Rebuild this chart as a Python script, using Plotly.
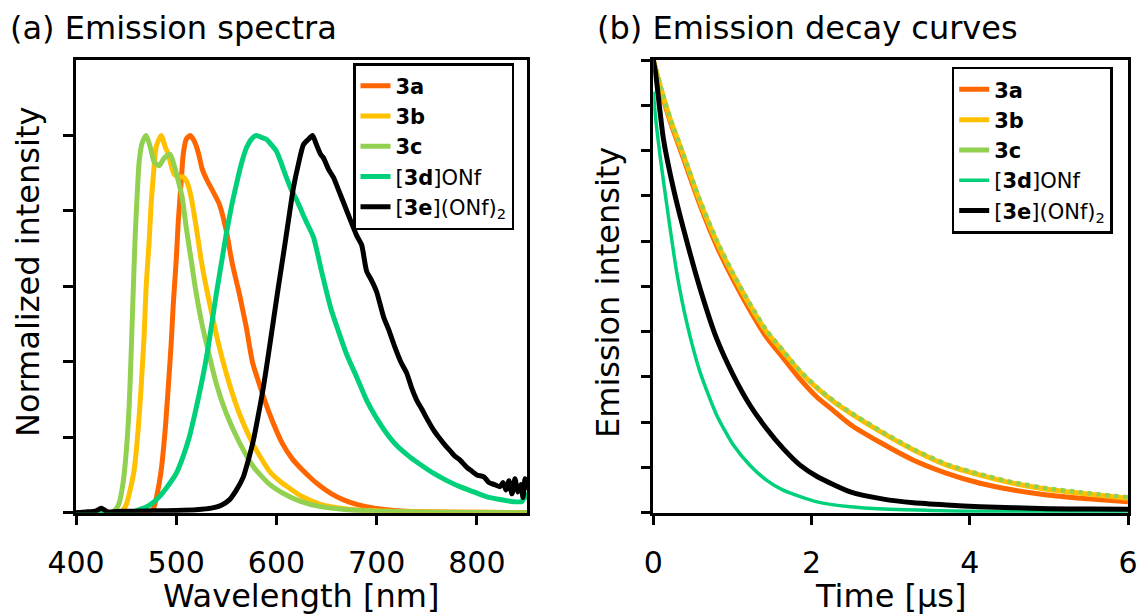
import plotly.graph_objects as go

# ---------------- (a) Emission spectra ----------------
wl_3a = [400, 470, 477, 481, 485, 489, 492, 495, 497, 500, 502, 505, 507, 510, 514, 518, 522, 526, 531,
         537, 543, 550, 556, 563, 570, 576, 583, 593, 606, 616, 626, 635, 644, 655, 667, 680, 695, 710,
         730, 760, 800, 850]
int_3a = [0, 0, 0.01, 0.05, 0.113, 0.22, 0.33, 0.45, 0.55, 0.67, 0.77, 0.88, 0.95, 0.99, 1.0, 0.985,
          0.955, 0.91, 0.88, 0.85, 0.818, 0.747, 0.659, 0.58, 0.49, 0.40, 0.34, 0.263, 0.183, 0.142,
          0.113, 0.09, 0.07, 0.05, 0.034, 0.022, 0.013, 0.008, 0.004, 0.002, 0.001, 0]

wl_3b = [400, 440, 446, 450, 454, 458, 462, 465, 468, 470, 473, 475, 478, 480, 485, 489, 492, 495, 498,
         503, 507, 511, 515, 520, 525, 530, 537, 543, 553, 563, 577, 593, 605, 613, 624, 644, 670, 700,
         750, 850]
int_3b = [0, 0, 0.005, 0.02, 0.06, 0.113, 0.22, 0.333, 0.47, 0.6, 0.72, 0.82, 0.92, 0.97, 1.0, 0.97,
          0.95, 0.92, 0.897, 0.89, 0.89, 0.875, 0.835, 0.756, 0.668, 0.597, 0.509, 0.439, 0.342, 0.263,
          0.18, 0.11, 0.08, 0.065, 0.045, 0.022, 0.01, 0.005, 0.002, 0]

wl_3c = [400, 435, 440, 443, 447, 450, 453, 455, 457, 459, 461, 463, 466, 470, 474, 478, 483, 488, 494,
         498, 502, 506, 510, 515, 519, 525, 531, 540, 550, 562, 577, 592, 607, 624, 644, 670, 700, 750,
         850]
int_3c = [0, 0, 0.01, 0.025, 0.08, 0.157, 0.28, 0.42, 0.58, 0.73, 0.84, 0.93, 0.98, 1.0, 0.97, 0.93,
          0.92, 0.94, 0.95, 0.92, 0.88, 0.835, 0.756, 0.668, 0.597, 0.509, 0.439, 0.342, 0.263, 0.192,
          0.122, 0.078, 0.051, 0.03, 0.016, 0.008, 0.004, 0.001, 0]

wl_3d = [400, 455, 460, 470, 476, 483, 490, 500, 507, 513, 518, 523, 528, 532, 536, 540, 545, 550, 555,
         560, 565, 570, 575, 580, 585, 590, 595, 600, 605, 610, 615, 620, 625, 630, 637, 645, 654, 662,
         670, 680, 690, 700, 710, 720, 733, 745, 757, 770, 783, 797, 810, 823, 837, 845, 848, 850]
int_3d = [0, 0, 0.005, 0.015, 0.025, 0.042, 0.065, 0.104, 0.15, 0.2, 0.255, 0.315, 0.38, 0.44, 0.51,
          0.58, 0.66, 0.74, 0.81, 0.87, 0.925, 0.967, 0.99, 1.0, 0.995, 0.99, 0.975, 0.958, 0.925, 0.888,
          0.855, 0.83, 0.8, 0.77, 0.73, 0.64, 0.544, 0.48, 0.42, 0.36, 0.298, 0.25, 0.21, 0.178, 0.148,
          0.125, 0.104, 0.085, 0.069, 0.055, 0.042, 0.035, 0.029, 0.03, 0.05, 0.035]

wl_3e = [400, 410, 420, 425, 428, 432, 440, 460, 480, 500, 520, 535, 545, 553, 560, 567, 572, 577, 582,
         587, 592, 597, 602, 607, 612, 617, 622, 627, 632, 636, 640, 644, 647, 652, 657, 662, 668, 674,
         680, 685, 690, 695, 700, 707, 712, 718, 724, 730, 735, 740, 745, 750, 757, 762, 768, 773, 778,
         783, 790, 795, 800, 807, 812, 817, 823, 826, 829, 832, 835, 838, 841, 844, 846, 848, 850]
int_3e = [0.0, 0.002, 0.005, 0.012, 0.008, 0.002, 0.003, 0.004, 0.005, 0.006, 0.008, 0.012, 0.02, 0.034,
          0.06, 0.095, 0.14, 0.192, 0.26, 0.333, 0.42, 0.51, 0.6, 0.686, 0.775, 0.862, 0.925, 0.976, 0.99,
          1.0, 0.975, 0.95, 0.94, 0.91, 0.888, 0.855, 0.815, 0.774, 0.735, 0.71, 0.64, 0.615, 0.585, 0.518,
          0.485, 0.44, 0.40, 0.37, 0.33, 0.298, 0.275, 0.25, 0.218, 0.2, 0.18, 0.165, 0.15, 0.14, 0.12,
          0.11, 0.1, 0.095, 0.08, 0.075, 0.069, 0.08, 0.06, 0.085, 0.05, 0.09, 0.055, 0.075, 0.04, 0.09,
          0.06]

# ---------------- (b) Emission decay curves ----------------
t_abc = [0, 0.1, 0.21, 0.38, 0.59, 0.80, 1.01, 1.22, 1.43, 1.64, 1.855, 2.07, 2.28, 2.49, 2.87, 3.29,
         3.71, 4.13, 4.55, 4.975, 5.40, 6.0]
dec_3a = [1.0, 0.93, 0.866, 0.783, 0.68, 0.59, 0.515, 0.448, 0.388, 0.342, 0.295, 0.255, 0.225, 0.195,
          0.155, 0.116, 0.087, 0.065, 0.05, 0.039, 0.032, 0.024]
dec_3b = [1.0, 0.935, 0.871, 0.79, 0.687, 0.599, 0.525, 0.459, 0.40, 0.356, 0.311, 0.275, 0.245, 0.22,
          0.179, 0.1385, 0.105, 0.083, 0.065, 0.052, 0.043, 0.032]
dec_3c = [1.0, 0.937, 0.873, 0.792, 0.69, 0.602, 0.528, 0.462, 0.403, 0.358, 0.313, 0.277, 0.247, 0.222,
          0.181, 0.14, 0.107, 0.085, 0.067, 0.054, 0.045, 0.034]

t_3d = [0, 0.03, 0.084, 0.17, 0.295, 0.42, 0.59, 0.80, 1.01, 1.22, 1.43, 1.64, 2.07, 2.49, 2.91, 3.5,
        4.0, 5.0, 6.0]
dec_3d = [0.93, 0.87, 0.79, 0.68, 0.532, 0.422, 0.311, 0.216, 0.15, 0.105, 0.072, 0.05, 0.024, 0.013,
          0.008, 0.005, 0.003, 0.002, 0.001]

t_3e = [0, 0.03, 0.127, 0.253, 0.38, 0.59, 0.80, 1.01, 1.22, 1.43, 1.64, 1.855, 2.07, 2.49, 2.91, 3.29,
        3.71, 4.13, 4.55, 5.0, 5.5, 6.0]
dec_3e = [1.0, 0.97, 0.827, 0.717, 0.628, 0.496, 0.385, 0.304, 0.238, 0.186, 0.142, 0.105, 0.08, 0.046,
          0.03, 0.022, 0.017, 0.013, 0.011, 0.009, 0.008, 0.0075]

names = ["<b>3a</b>", "<b>3b</b>", "<b>3c</b>", "[<b>3d</b>]ONf", "[<b>3e</b>](ONf)<sub>2</sub>"]
colors = ["#FF6600", "#FFC000", "#92D050", "#00D07A", "#000000"]

FONT = "DejaVu Sans"
W, H = 1139, 614

fig = go.Figure()

spec = [(wl_3a, int_3a), (wl_3b, int_3b), (wl_3c, int_3c), (wl_3d, int_3d), (wl_3e, int_3e)]
for i, (x, y) in enumerate(spec):
    fig.add_trace(go.Scatter(x=x, y=y, mode="lines", name=names[i],
                             line=dict(color=colors[i], width=5, shape="spline", smoothing=0.6),
                             xaxis="x", yaxis="y", legend="legend"))

# decay
fig.add_trace(go.Scatter(x=t_abc, y=dec_3a, mode="lines", name=names[0],
                         line=dict(color=colors[0], width=5, shape="spline", smoothing=0.6),
                         xaxis="x2", yaxis="y2", legend="legend2", legendrank=1))
fig.add_trace(go.Scatter(x=t_abc, y=dec_3b, mode="lines", name=names[1],
                         line=dict(color=colors[1], width=5, shape="spline", smoothing=0.6),
                         xaxis="x2", yaxis="y2", legend="legend2", legendrank=2))
fig.add_trace(go.Scatter(x=t_abc, y=dec_3c, mode="lines", name=names[2], showlegend=False,
                         line=dict(color=colors[2], width=4.5, dash="dot", shape="spline", smoothing=0.6),
                         xaxis="x2", yaxis="y2", legend="legend2"))
fig.add_trace(go.Scatter(x=[None], y=[None], mode="lines", name=names[2],
                         line=dict(color=colors[2], width=5),
                         xaxis="x2", yaxis="y2", legend="legend2", legendrank=3))
fig.add_trace(go.Scatter(x=t_3d, y=dec_3d, mode="lines", name=names[3],
                         line=dict(color=colors[3], width=3.5, shape="spline", smoothing=0.6),
                         xaxis="x2", yaxis="y2", legend="legend2", legendrank=4))
fig.add_trace(go.Scatter(x=t_3e, y=dec_3e, mode="lines", name=names[4],
                         line=dict(color=colors[4], width=5, shape="spline", smoothing=0.6),
                         xaxis="x2", yaxis="y2", legend="legend2", legendrank=5))

axis_common = dict(showline=True, linecolor="black", linewidth=2.5, mirror=True, showgrid=False,
                   zeroline=False, ticks="outside", ticklen=10, tickwidth=2.5, tickcolor="black",
                   automargin=False,
                   tickfont=dict(family=FONT, size=30, color="black"))

ydom = [1 - 512.7 / H, 1 - 60 / H]
fig.update_layout(
    width=W, height=H, margin=dict(l=0, r=0, t=0, b=0, pad=0, autoexpand=False),
    paper_bgcolor="white", plot_bgcolor="white",
    showlegend=True,
    xaxis=dict(domain=[76 / W, 527 / W], range=[400, 850], tickvals=[400, 500, 600, 700, 800],
               ticklabelstandoff=12, **axis_common),
    yaxis=dict(domain=ydom, range=[0, 1.2], tickvals=[0, 0.2, 0.4, 0.6, 0.8, 1.0],
               showticklabels=False, **axis_common),
    xaxis2=dict(domain=[653.3 / W, 1128 / W], range=[0, 6], tickvals=[0, 2, 4, 6],
                ticklabelstandoff=12, anchor="y2", **axis_common),
    yaxis2=dict(domain=ydom, range=[0, 1.0], dtick=0.1, showticklabels=False, anchor="x2",
                **axis_common),
    legend=dict(x=353 / W, y=1 - 63 / H, xanchor="left", yanchor="top", bgcolor="white",
                bordercolor="black", borderwidth=2.5, font=dict(family=FONT, size=21, color="black"),
                tracegroupgap=0, itemwidth=30),
    legend2=dict(x=951.7 / W, y=1 - 66.7 / H, xanchor="left", yanchor="top", bgcolor="white",
                 bordercolor="black", borderwidth=2.5, font=dict(family=FONT, size=21, color="black"),
                 tracegroupgap=0, itemwidth=30),
    font=dict(family=FONT, color="black"),
)

ann_font = dict(family=FONT, size=32, color="black")
annotations = [
    dict(text="(a) Emission spectra", x=8 / W, y=1 - 28 / H, xanchor="left", yanchor="middle"),
    dict(text="(b) Emission decay curves", x=595 / W, y=1 - 28 / H, xanchor="left", yanchor="middle"),
    dict(text="Wavelength [nm]", x=301 / W, y=1 - 596 / H, xanchor="center", yanchor="middle"),
    dict(text="Time [µs]", x=890 / W, y=1 - 596 / H, xanchor="center", yanchor="middle"),
    dict(text="Normalized intensity", x=28 / W, y=1 - 272 / H, xanchor="center", yanchor="middle",
         textangle=-90),
    dict(text="Emission intensity", x=608 / W, y=1 - 293 / H, xanchor="center", yanchor="middle",
         textangle=-90),
]
for a in annotations:
    a.update(xref="paper", yref="paper", showarrow=False, font=ann_font)
fig.update_layout(annotations=annotations)

fig.write_html("out.html")
